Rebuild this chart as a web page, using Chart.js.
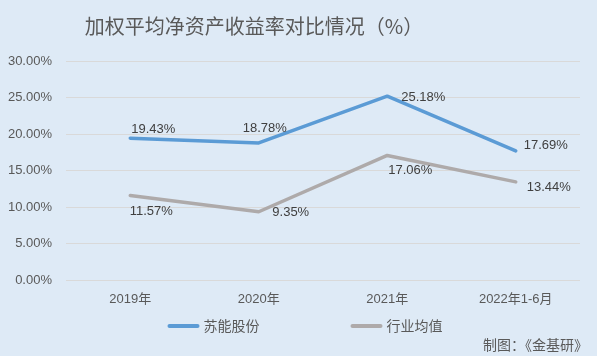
<!DOCTYPE html>
<html><head><meta charset="utf-8">
<script src="https://cdn.jsdelivr.net/npm/chart.js@4"></script>
<style>html,body{margin:0;padding:0;background:#deeaf6;overflow:hidden}#wrap{width:597px;height:356px;position:relative}</style>
</head><body><div id="wrap"><canvas id="c" width="597" height="356"></canvas></div>
<script>
const categories = ['2019年', '2020年', '2021年', '2022年1-6月'];
const seriesNames = ['苏能股份', '行业均值'];
const sunengValues = [19.43, 18.78, 25.18, 17.69];
const industryValues = [11.57, 9.35, 17.06, 13.44];
const yMin = 0, yMax = 30, yStep = 5;
const titleText = '加权平均净资产收益率对比情况（%）';
const footerText = '制图：《金基研》';

// label placement (styling): offset of each label centre from its point
const labelOffsets = [
  [[23, -9], [6, -14], [36, 1], [30, -5]],
  [[21, 16], [32, 1], [23, 15], [33, 6]]
];

const NUMFONT = "'Liberation Sans','Noto Sans CJK SC',sans-serif";
const CJKFONT = "'Noto Sans CJK SC','Liberation Sans',sans-serif";
const TEXT = '#595959';

const decor = {
  id: 'decor',
  afterDatasetsDraw(chart) {
    const ctx = chart.ctx;
    ctx.save();
    ctx.font = '13px ' + NUMFONT;
    ctx.fillStyle = '#404040';
    ctx.textAlign = 'center';
    ctx.textBaseline = 'middle';
    chart.data.datasets.forEach((ds, di) => {
      const meta = chart.getDatasetMeta(di);
      meta.data.forEach((pt, i) => {
        const o = labelOffsets[di][i];
        ctx.fillText(ds.data[i].toFixed(2) + '%', pt.x + o[0], pt.y + o[1]);
      });
    });
    ctx.restore();
  },
  afterDraw(chart) {
    const ctx = chart.ctx;
    ctx.save();
    ctx.font = '20px ' + CJKFONT;
    ctx.fillStyle = TEXT;
    ctx.textAlign = 'center';
    ctx.textBaseline = 'middle';
    ctx.fillText(titleText, 254, 26);
    ctx.font = '14px ' + CJKFONT;
    ctx.textBaseline = 'middle';
    ctx.textAlign = 'left';
    const boxW = 32, gapBox = 4, gapItems = 91;
    const items = chart.data.datasets.map(ds => ({ label: ds.label, color: ds.borderColor, w: boxW + gapBox + ctx.measureText(ds.label).width }));
    const total = items.reduce((a, it) => a + it.w, 0) + gapItems * (items.length - 1);
    let x = 305 - total / 2;
    const ly = 326;
    items.forEach(it => {
      ctx.strokeStyle = it.color;
      ctx.lineWidth = 4;
      ctx.lineCap = 'round';
      ctx.beginPath();
      ctx.moveTo(x + 2, ly);
      ctx.lineTo(x + boxW - 2, ly);
      ctx.stroke();
      ctx.fillStyle = TEXT;
      ctx.fillText(it.label, x + boxW + gapBox, ly);
      x += it.w + gapItems;
    });
    ctx.font = '14px ' + CJKFONT;
    ctx.textAlign = 'right';
    ctx.fillText(footerText, 588, 345);
    ctx.restore();
  }
};

new Chart(document.getElementById('c'), {
  type: 'line',
  data: {
    labels: categories,
    datasets: [
      { label: seriesNames[0], data: sunengValues, borderColor: '#5b9bd5', backgroundColor: '#5b9bd5' },
      { label: seriesNames[1], data: industryValues, borderColor: '#aeaaaa', backgroundColor: '#aeaaaa' }
    ]
  },
  options: {
    responsive: false,
    animation: false,
    layout: { padding: { top: 61, left: 0, right: 17, bottom: 46 } },
    elements: {
      line: { borderWidth: 3.5, tension: 0, borderCapStyle: 'round', borderJoinStyle: 'round' },
      point: { radius: 0, hoverRadius: 0 }
    },
    plugins: { legend: { display: false }, title: { display: false }, tooltip: { enabled: false } },
    scales: {
      x: {
        offset: true,
        grid: { display: false, drawTicks: false },
        border: { display: false },
        ticks: { color: TEXT, font: { size: 13, family: NUMFONT }, padding: 12, maxRotation: 0 },
        afterFit(s) { s.height = 30; }
      },
      y: {
        min: yMin, max: yMax,
        grid: { color: '#d9d9d9', lineWidth: 1, drawTicks: false },
        border: { display: false },
        ticks: { stepSize: yStep, color: TEXT, font: { size: 13, family: NUMFONT }, padding: 14,
          callback: v => v.toFixed(2) + '%' },
        afterFit(s) { s.width = 66; }
      }
    }
  },
  plugins: [decor]
});
</script></body></html>
